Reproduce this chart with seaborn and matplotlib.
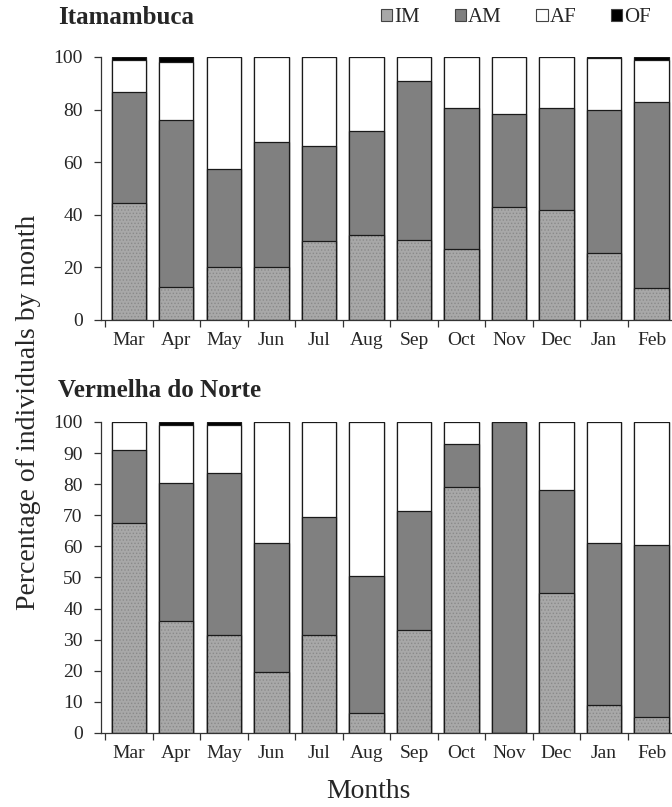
import numpy as np
import pandas as pd
import matplotlib
matplotlib.use("Agg")
import matplotlib.pyplot as plt
import seaborn as sns
from matplotlib.patches import Patch

# ----------------------------- Data (percent of individuals) -----------------------------
MONTHS = ["Mar", "Apr", "May", "Jun", "Jul", "Aug", "Sep", "Oct", "Nov", "Dec", "Jan", "Feb"]

ITA_IM = [44.5, 12.5, 20.0, 20.0, 30.0, 32.5, 30.5, 27.0, 43.0, 42.0, 25.5, 12.0]
ITA_AM = [42.0, 63.5, 37.5, 47.5, 36.0, 39.5, 60.5, 53.5, 35.5, 38.5, 54.5, 71.0]
ITA_AF = [12.5, 22.0, 42.5, 32.5, 34.0, 28.0, 9.0, 19.5, 21.5, 19.5, 19.5, 16.0]
ITA_OF = [1.0, 2.0, 0, 0, 0, 0, 0, 0, 0, 0, 0.5, 1.0]

VER_IM = [67.5, 36.0, 31.5, 19.5, 31.5, 6.5, 33.0, 79.0, 0, 45.0, 9.0, 5.0]
VER_AM = [23.5, 44.5, 52.0, 41.5, 38.0, 44.0, 38.5, 14.0, 100.0, 33.0, 52.0, 55.5]
VER_AF = [9.0, 18.5, 15.5, 39.0, 30.5, 49.5, 28.5, 7.0, 0, 22.0, 39.0, 39.5]
VER_OF = [0, 1.0, 1.0, 0, 0, 0, 0, 0, 0, 0, 0, 0]

COLORS = {"IM": "#a8a8a8", "AM": "#808080", "AF": "#ffffff", "OF": "#000000"}
SERIF = ["Liberation Serif", "DejaVu Serif"]

sns.set_theme(style="ticks")
plt.rcParams["font.family"] = SERIF
plt.rcParams["hatch.linewidth"] = 0.6


def stacked_panel(ax, im, am, af, of, yticks):
    df = pd.DataFrame({"Month": MONTHS, "IM": im, "AM": am, "AF": af, "OF": of})
    df["c_im"] = df["IM"]
    df["c_am"] = df["c_im"] + df["AM"]
    df["c_af"] = df["c_am"] + df["AF"]
    df["c_of"] = df["c_af"] + df["OF"]

    kw = dict(x="Month", order=MONTHS, width=0.72, errorbar=None, saturation=1, ax=ax)
    # tallest layer first, each shorter one painted over it
    for col, key in [("c_of", "OF"), ("c_af", "AF"), ("c_am", "AM")]:
        sns.barplot(data=df, y=col, color=COLORS[key], edgecolor="#1a1a1a", linewidth=0.9, **kw)
    n_before = len(ax.patches)
    sns.barplot(data=df, y="c_im", color=COLORS["IM"], edgecolor="#8a8a8a", linewidth=0, **kw)
    for p in ax.patches[n_before:]:
        p.set_hatch(".....")
    sns.barplot(data=df, y="c_im", fill=False, edgecolor="#1a1a1a", linewidth=0.9, **kw)

    ax.set_xlim(-0.59, 11.43)
    ax.set_ylim(0, 100)
    ax.set_yticks(yticks)
    ax.set_xlabel("")
    ax.set_ylabel("")
    ax.set_xticks(np.arange(-0.5, 11.0, 1.0), minor=True)
    ax.tick_params(axis="x", which="major", length=0, labelsize=14, pad=9)
    ax.tick_params(axis="x", which="minor", length=5, width=0.9, direction="out", color="#333333")
    ax.tick_params(axis="y", length=5, width=0.9, labelsize=14, pad=8, color="#333333")
    for s in ["top", "right"]:
        ax.spines[s].set_visible(False)
    for s in ["left", "bottom"]:
        ax.spines[s].set_linewidth(0.9)
        ax.spines[s].set_color("#333333")


fig = plt.figure(figsize=(6.72, 8.07), dpi=100)
ax_top = fig.add_axes([0.150, 0.6035, 0.850, 0.3259])
ax_bot = fig.add_axes([0.150, 0.0917, 0.850, 0.3854])

stacked_panel(ax_top, ITA_IM, ITA_AM, ITA_AF, ITA_OF, np.arange(0, 101, 20))
stacked_panel(ax_bot, VER_IM, VER_AM, VER_AF, VER_OF, np.arange(0, 101, 10))

fig.text(0.086, 0.978, "Itamambuca", fontsize=18, fontweight="bold", va="center", ha="left")
fig.text(0.086, 0.5167, "Vermelha do Norte", fontsize=18, fontweight="bold", va="center", ha="left")
fig.text(0.043, 0.489, "Percentage of individuals by month", fontsize=20, rotation=90,
         va="center", ha="center")
fig.text(0.548, 0.019, "Months", fontsize=20, va="center", ha="center")

handles = [Patch(facecolor=COLORS[k], edgecolor="#444444", linewidth=0.8, label=k)
           for k in ["IM", "AM", "AF", "OF"]]
fig.legend(handles=handles, ncol=4, loc="center", bbox_to_anchor=(0.768, 0.978), frameon=False,
           fontsize=15, handlelength=0.55, handleheight=0.55, handletextpad=0.1,
           columnspacing=1.65, borderpad=0)

fig.savefig("out.png", dpi=100)
